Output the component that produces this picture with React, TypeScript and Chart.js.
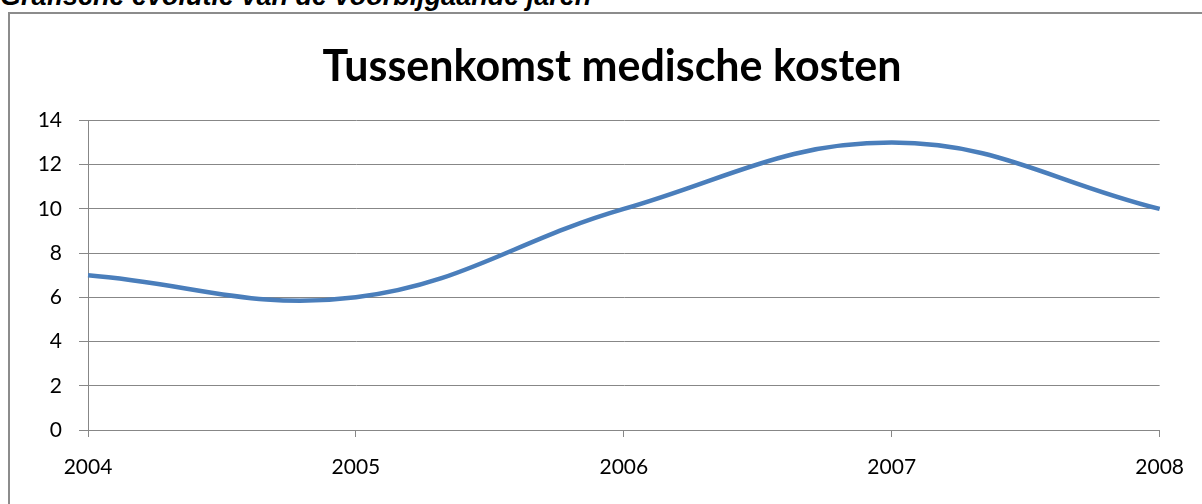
import React, { useEffect, useRef } from "react";
import { Chart, registerables } from "chart.js";

Chart.register(...registerables);

const years = ["2004", "2005", "2006", "2007", "2008"];
const kosten = [7, 6, 10, 13, 10];
const yTicks = [0, 2, 4, 6, 8, 10, 12, 14];
const chartTitle = "Tussenkomst medische kosten";
const pageHeading = "Grafische evolutie van de voorbijgaande jaren";

export default function App() {
  const ref = useRef<HTMLCanvasElement | null>(null);

  useEffect(() => {
    if (!ref.current) return;
    const gridColor = "#878787";
    const chart = new Chart(ref.current, {
      type: "line",
      data: {
        labels: years,
        datasets: [
          {
            data: kosten,
            borderColor: "#4a7ebb",
            borderWidth: 4.5,
            tension: 0.4,
            pointRadius: 0,
            fill: false,
          },
        ],
      },
      options: {
        animation: false,
        responsive: false,
        maintainAspectRatio: false,
        layout: { padding: { left: 0, right: 40, top: 106.5, bottom: 0 } },
        plugins: {
          legend: { display: false },
          tooltip: { enabled: false },
          title: { display: false },
        },
        scales: {
          x: {
            type: "category",
            offset: false,
            afterFit: (scale: any) => {
              scale.height = 74;
            },
            grid: {
              display: true,
              drawOnChartArea: false,
              drawTicks: true,
              tickLength: 7,
              color: gridColor,
              lineWidth: 1,
            },
            border: { display: true, color: gridColor, width: 1 },
            ticks: {
              color: "#000",
              font: { family: "Lato", size: 21 },
              padding: 18,
              maxRotation: 0,
              autoSkip: false,
            },
          },
          y: {
            min: 0,
            max: 14,
            afterFit: (scale: any) => {
              scale.width = 78;
            },
            afterBuildTicks: (scale: any) => {
              scale.ticks = yTicks.map((v) => ({ value: v }));
            },
            grid: {
              color: gridColor,
              lineWidth: 1,
              drawTicks: true,
              tickLength: 9,
            },
            border: { display: true, color: gridColor, width: 1 },
            ticks: {
              color: "#000",
              font: { family: "Lato", size: 21 },
              padding: 17,
            },
          },
        },
      },
    });
    return () => chart.destroy();
  }, []);

  return (
    <div
      style={{
        position: "fixed",
        left: 0,
        top: 0,
        width: 1202,
        height: 504,
        background: "#fff",
        overflow: "hidden",
      }}
    >
      <div
        style={{
          position: "absolute",
          left: 0,
          top: -17,
          fontFamily: "'Liberation Sans', Arial, sans-serif",
          fontWeight: "bold",
          fontStyle: "italic",
          fontSize: 27,
          lineHeight: 1,
          whiteSpace: "nowrap",
          color: "#000",
        }}
      >
        {pageHeading}
      </div>
      <div
        style={{
          position: "absolute",
          left: 8,
          top: 12,
          width: 1210,
          height: 520,
          border: "2px solid #8c8c8c",
          boxSizing: "border-box",
        }}
      />
      <canvas
        ref={ref}
        width={1192}
        height={490}
        style={{ position: "absolute", left: 10, top: 14, width: 1192, height: 490 }}
      />
      <div
        style={{
          position: "absolute",
          left: 0,
          top: 39,
          width: 1224,
          textAlign: "center",
          fontFamily: "Lato, sans-serif",
          fontWeight: "bold",
          fontSize: 43,
          lineHeight: "51.6px",
          whiteSpace: "nowrap",
          color: "#000",
        }}
      >
        {chartTitle}
      </div>
    </div>
  );
}
